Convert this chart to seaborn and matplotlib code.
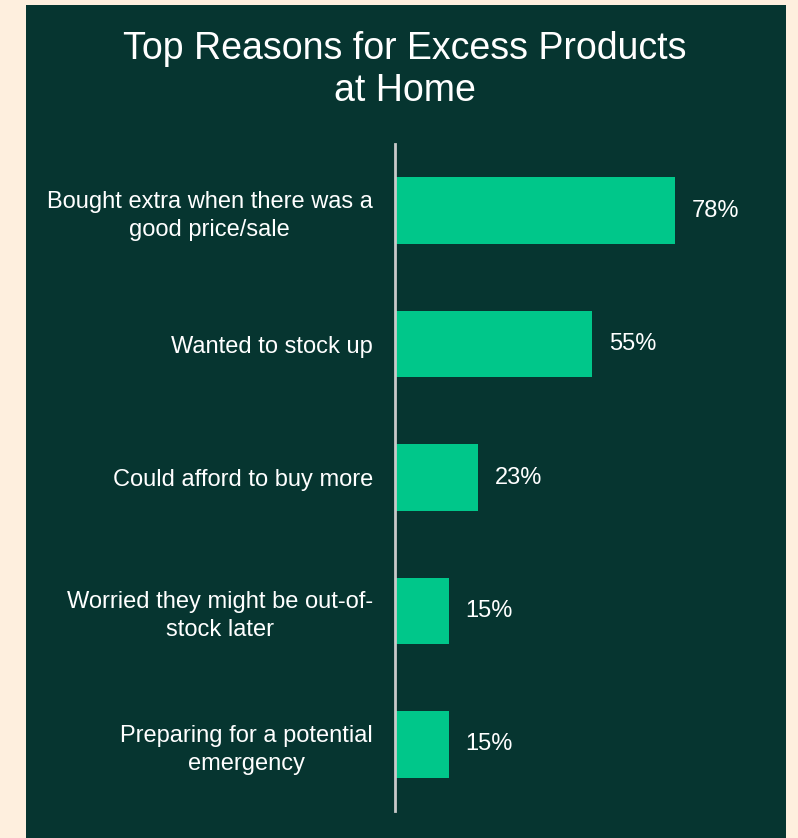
import matplotlib
matplotlib.use("Agg")
import matplotlib.pyplot as plt
import pandas as pd
import seaborn as sns
from matplotlib.patches import Rectangle

reasons = [
    "Bought extra when there was a\ngood price/sale",
    "Wanted to stock up",
    "Could afford to buy more",
    "Worried they might be out-of-\nstock later",
    "Preparing for a potential\nemergency",
]
shares = [78, 55, 23, 15, 15]

cream = "#FEEFDE"
panel = "#063530"
bar_green = "#00C78A"

sns.set_style("white")
plt.rcParams["font.family"] = ["Liberation Sans", "DejaVu Sans"]

df = pd.DataFrame({"reason": reasons, "share": shares})

W, H = 798, 838
fig = plt.figure(figsize=(W / 100, H / 100), dpi=100)
fig.patch.set_facecolor(cream)
fig.patches.append(Rectangle((26 / W, 0), 760 / W, (H - 5) / H,
                             transform=fig.transFigure, facecolor=panel,
                             edgecolor="none", zorder=-1))

# axes: left at x=395, y from 144 to 811 (pixel coords from top)
ax = fig.add_axes([395 / W, (H - 811) / H, 360 / W, 667 / H])
ax.set_zorder(2)
ax.set_facecolor("none")
sns.barplot(data=df, x="share", y="reason", color=bar_green, width=0.5,
            saturation=1, linewidth=0, ax=ax)
ax.set_xlim(0, 100.3)
ax.set_ylim(4.5, -0.5)

for i, v in enumerate(shares):
    ax.text(v + 4.7, i, f"{v}%", va="center", ha="left", color="white",
            fontsize=17)

ax.set_xlabel("")
ax.set_ylabel("")
ax.set_xticks([])
ax.tick_params(axis="y", length=0, pad=16, labelsize=17, labelcolor="white")
for lbl in ax.get_yticklabels():
    lbl.set_multialignment("center")
    lbl.set_linespacing(1.35)

for side in ["top", "right", "bottom"]:
    ax.spines[side].set_visible(False)
ax.spines["left"].set_color("#C9C9C9")
ax.spines["left"].set_linewidth(2)

fig.text(405 / W, 1 - 70 / H, "Top Reasons for Excess Products\nat Home",
         ha="center", va="center", color="white", fontsize=27,
         multialignment="center", linespacing=1.22, zorder=3)

fig.savefig("out.png", dpi=100, facecolor=cream)
